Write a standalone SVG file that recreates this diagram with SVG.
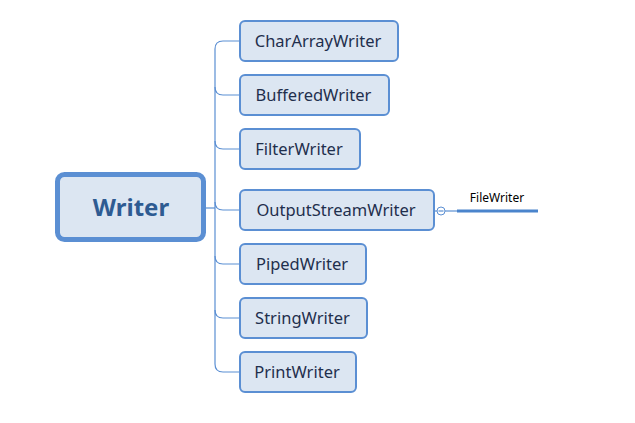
<svg xmlns="http://www.w3.org/2000/svg" width="635" height="423" viewBox="0 0 635 423">
<style>
.box{fill:#dce6f2;stroke:#5b8fd3;stroke-width:2}
.lbl{font-family:"Noto Sans","Liberation Sans",sans-serif;font-size:16.5px;fill:#1f2f4d;text-anchor:middle;dominant-baseline:central}
.conn{fill:none;stroke:#5b8fd3;stroke-width:1.2}
</style>
<rect width="635" height="423" fill="#ffffff"/>
<g id="connectors">
<path class="conn" d="M205 208 H215"/>
<path class="conn" d="M240 41 H223 Q215 41 215 49 V364 Q215 372 223 372 H240"/>
<path class="conn" d="M215 87 Q215 95 223 95 H240"/>
<path class="conn" d="M215 141 Q215 149 223 149 H240"/>
<path class="conn" d="M215 202 Q215 210 223 210 H240"/>
<path class="conn" d="M215 256 Q215 264 223 264 H240"/>
<path class="conn" d="M215 310 Q215 318 223 318 H240"/>
<path class="conn" d="M434 211 H437"/>
<circle cx="441" cy="211" r="4" fill="#ffffff" stroke="#5b8fd3" stroke-width="1"/>
<path class="conn" d="M438.5 211 H443.5"/>
<path class="conn" d="M445 211 H457"/>
<path d="M457 211 H538" stroke="#4a84cc" stroke-width="3" fill="none"/>
</g>
<g id="root">
<rect x="57.5" y="174.5" width="146" height="65" rx="7" fill="#dce6f2" stroke="#5b8fd3" stroke-width="5"/>
<text x="131" y="206.5" font-family="'Noto Sans','Liberation Sans',sans-serif" font-size="24" font-weight="bold" fill="#2e5b92" text-anchor="middle" dominant-baseline="central">Writer</text>
</g>
<g id="n1"><rect class="box" x="240" y="21" width="158" height="40" rx="5"/><text class="lbl" x="318" y="40">CharArrayWriter</text></g>
<g id="n2"><rect class="box" x="240" y="75" width="149" height="40" rx="5"/><text class="lbl" x="313.5" y="94">BufferedWriter</text></g>
<g id="n3"><rect class="box" x="240" y="129" width="120" height="40" rx="5"/><text class="lbl" x="299" y="148">FilterWriter</text></g>
<g id="n4"><rect class="box" x="240" y="190" width="194" height="40" rx="5"/><text class="lbl" x="336" y="209">OutputStreamWriter</text></g>
<g id="n5"><rect class="box" x="240" y="244" width="126" height="40" rx="5"/><text class="lbl" x="302" y="263">PipedWriter</text></g>
<g id="n6"><rect class="box" x="240" y="298" width="127" height="40" rx="5"/><text class="lbl" x="302.5" y="317">StringWriter</text></g>
<g id="n7"><rect class="box" x="240" y="352" width="116" height="40" rx="5"/><text class="lbl" x="297" y="371">PrintWriter</text></g>
<g id="n8"><text x="497" y="197.5" font-family="'Noto Sans','Liberation Sans',sans-serif" font-size="12" fill="#000000" text-anchor="middle" dominant-baseline="central">FileWriter</text></g>
</svg>
